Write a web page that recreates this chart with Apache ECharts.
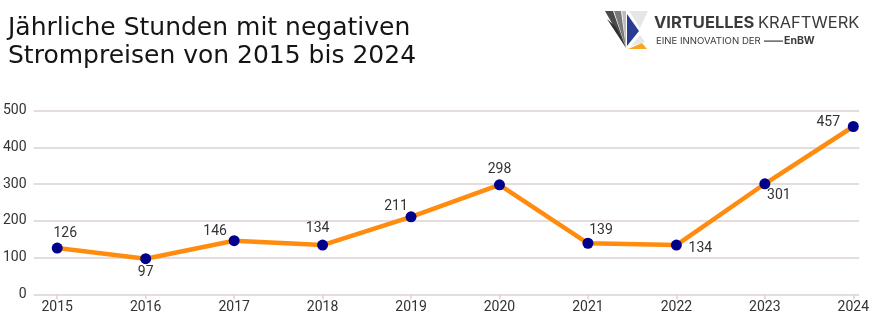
<!DOCTYPE html>
<html>
<head>
<meta charset="utf-8">
<script src="https://cdn.jsdelivr.net/npm/echarts@6/dist/echarts.min.js"></script>
<style>
  html, body { margin: 0; padding: 0; background: #fff; }
  #chart { width: 872px; height: 332px; }
</style>
</head>
<body>
<div id="chart"></div>
<script>
// Yearly hours with negative electricity prices
const years = [2015, 2016, 2017, 2018, 2019, 2020, 2021, 2022, 2023, 2024];
const hours = [126, 97, 146, 134, 211, 298, 139, 134, 301, 457];
const yTicks = [0, 100, 200, 300, 400, 500];

// label placement around each point (offset from the marker centre)
const labelOffsets = [[8, -15], [0, 14], [-19, -9], [-5, -17], [-15, -10],
                      [0, -15], [13, -13], [24, 3], [14, 12], [-25, -4]];

const gridColor = '#dcd2cf';
const textColor = '#333333';
const labelFont = 'Roboto';

const chart = echarts.init(document.getElementById('chart'), null, { renderer: 'canvas' });

const seriesData = years.map((y, i) => ({
  value: [y, hours[i]],
  label: {
    show: true,
    position: 'inside',
    offset: labelOffsets[i],
    formatter: String(hours[i])
  }
}));

chart.setOption({
  animation: false,
  backgroundColor: '#ffffff',
  title: {
    text: 'Jährliche Stunden mit negativen\nStrompreisen von 2015 bis 2024',
    left: 3,
    top: 9,
    textStyle: {
      fontFamily: 'DejaVu Sans',
      fontWeight: 'normal',
      fontSize: 25,
      lineHeight: 28,
      color: '#151515'
    }
  },
  grid: { left: 28, right: 6, top: 110.7, bottom: 37.7, containLabel: false },
  xAxis: {
    type: 'value',
    min: 2014.733,
    max: 2024.067,
    splitLine: { show: false },
    axisLine: { show: false },
    axisTick: {
      show: true,
      customValues: years,
      length: 5,
      lineStyle: { color: gridColor, width: 1.5 }
    },
    axisLabel: {
      customValues: years,
      formatter: v => String(v),
      color: textColor,
      fontFamily: labelFont,
      fontSize: 14,
      margin: 6
    }
  },
  yAxis: {
    type: 'value',
    min: yTicks[0],
    max: yTicks[yTicks.length - 1],
    interval: 100,
    axisLine: { show: false },
    axisTick: { show: false },
    splitLine: { lineStyle: { color: gridColor, width: 1.5 } },
    axisLabel: {
      color: textColor,
      fontFamily: labelFont,
      fontSize: 14,
      margin: 7
    }
  },
  series: [{
    type: 'line',
    data: seriesData,
    symbol: 'circle',
    symbolSize: 11,
    lineStyle: { color: '#ff8c0f', width: 4.5 },
    itemStyle: { color: '#00008b' },
    label: {
      color: textColor,
      fontFamily: labelFont,
      fontSize: 14,
      align: 'center',
      verticalAlign: 'middle'
    },
    z: 3
  }],
  graphic: [
    // brand mark
    { type: 'polygon', shape: { points: [[605, 11], [613, 11], [626, 48]] }, style: { fill: '#4a4a4a' } },
    { type: 'polygon', shape: { points: [[614, 11], [621, 11], [626, 48]] }, style: { fill: '#7a7a7a' } },
    { type: 'polygon', shape: { points: [[607, 19], [616, 27], [626, 48]] }, style: { fill: '#2e2e2e' } },
    { type: 'polygon', shape: { points: [[622, 11], [626, 11], [626, 48]] }, style: { fill: '#bdbdbd' } },
    { type: 'polygon', shape: { points: [[627, 14], [639, 31], [627, 46]] }, style: { fill: '#283d8f' } },
    { type: 'polygon', shape: { points: [[629, 11], [648, 11], [640, 28]] }, style: { fill: '#e6e6e6' } },
    { type: 'polygon', shape: { points: [[640, 35], [645, 42], [631, 46]] }, style: { fill: '#e6e6e6' } },
    { type: 'polygon', shape: { points: [[628, 49], [642, 43], [647, 49]] }, style: { fill: '#f5a623' } },
    {
      type: 'text', left: 654, top: 15,
      style: { text: 'VIRTUELLES', font: 'bold 16.5px Inter', fill: '#3b3b3b' }
    },
    {
      type: 'text', left: 758, top: 15,
      style: { text: 'KRAFTWERK', font: '16.5px Inter', fill: '#3b3b3b' }
    },
    {
      type: 'text', left: 656, top: 36,
      style: { text: 'EINE INNOVATION DER', font: '9.6px Inter', fill: '#3b3b3b' }
    },
    { type: 'rect', shape: { x: 764, y: 40.5, width: 19, height: 1.2 }, style: { fill: '#3b3b3b' } },
    {
      type: 'text', left: 784, top: 35,
      style: { text: 'EnBW', font: 'bold 10.5px Inter', fill: '#3b3b3b' }
    }
  ]
});
</script>
</body>
</html>
